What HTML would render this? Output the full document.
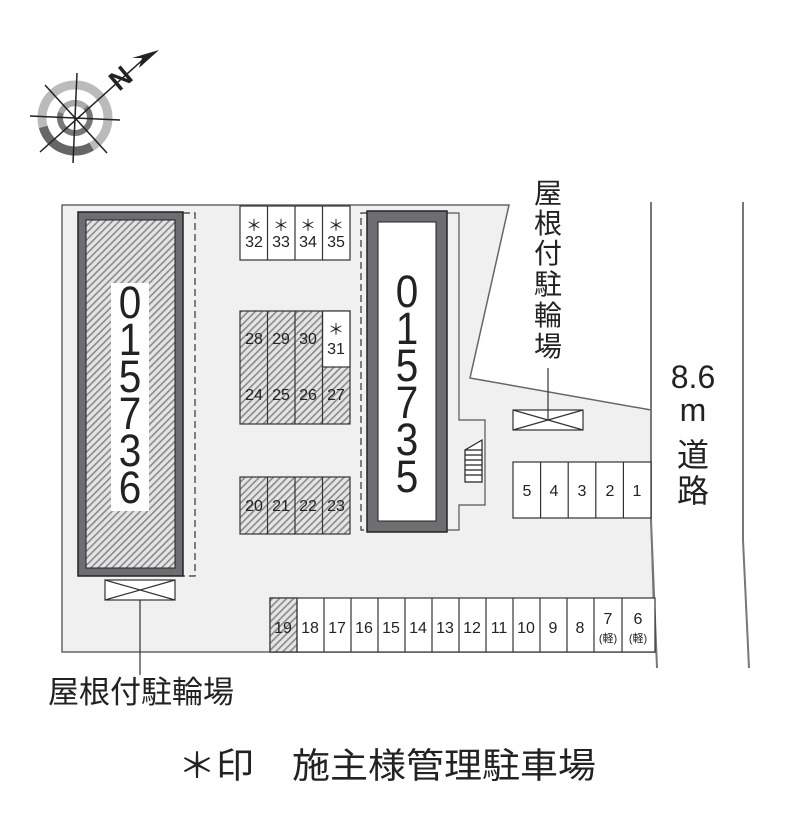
<!DOCTYPE html>
<html><head><meta charset="utf-8"><style>
html,body{margin:0;padding:0;background:#fff;}
svg{display:block;}
text{font-family:"Liberation Sans","Noto Sans CJK JP",sans-serif;fill:#222;}
</style></head><body>
<svg width="800" height="814" viewBox="0 0 800 814" xmlns="http://www.w3.org/2000/svg">
<defs>
<pattern id="h" width="5" height="5" patternUnits="userSpaceOnUse" patternTransform="rotate(45)">
<rect width="5" height="5" fill="#e4e4e4"/><rect width="1.6" height="5" fill="#8a8a8a"/>
</pattern>
</defs>
<path d="M62,205 L509,205 L470,378 L651,410 L651,520 L655,652 L62,652 Z" fill="#f0f0f0" stroke="#666" stroke-width="1.5"/>
<path d="M651,202 L651,520 L657,668" fill="none" stroke="#777" stroke-width="2"/>
<path d="M743,202 L743,540 L749,668" fill="none" stroke="#777" stroke-width="2"/>
<g transform="translate(75,118)">
<circle r="33" fill="none" stroke="#bbb" stroke-width="9"/>
<circle r="33" fill="none" stroke="#666" stroke-width="9" stroke-dasharray="60 200" transform="rotate(60)"/>
<circle r="15" fill="none" stroke="#777" stroke-width="6"/>
<circle r="15" fill="none" stroke="#aaa" stroke-width="6" stroke-dasharray="30 100" transform="rotate(200)"/>
<g stroke="#222" stroke-width="1.5">
<line x1="-45" y1="-2" x2="45" y2="2"/><line x1="2" y1="-45" x2="-2" y2="45"/>
<line x1="-30" y1="-33" x2="32" y2="35"/><line x1="-35" y1="34" x2="72" y2="-62"/>
</g>
<text x="44" y="-26" font-size="28" font-weight="bold" transform="rotate(-40 44 -26)">N</text>
<path d="M84,-68 L64,-50 L67,-60 L57,-60 Z" fill="#222"/>
</g>
<rect x="78" y="212" width="105" height="364" fill="#6e6e72" stroke="#222" stroke-width="1.5"/>
<rect x="86" y="220" width="89" height="348" fill="url(#h)" stroke="#222" stroke-width="1"/>
<rect x="111" y="283" width="38" height="228" fill="#fff"/>
<g font-size="45" text-anchor="middle" transform="translate(130,0) scale(0.9,1)">
<text x="0" y="318">0</text><text x="0" y="355">1</text><text x="0" y="392">5</text><text x="0" y="429">7</text><text x="0" y="466">3</text><text x="0" y="503">6</text></g>
<path d="M183,213 L195,213 L195,576 L183,576" fill="none" stroke="#333" stroke-width="1.2" stroke-dasharray="7 4"/>
<rect x="105" y="580" width="70" height="20" fill="#fff" stroke="#333" stroke-width="1.2"/>
<path d="M105,580 L175,600 M175,580 L105,600 M140,600 L140,675" stroke="#333" stroke-width="1.2"/>
<text x="141" y="703" font-size="31" text-anchor="middle">屋根付駐輪場</text>
<g stroke="#333" stroke-width="1.2">
<rect x="240" y="206" width="110" height="54" fill="#fff"/>
<line x1="267.5" y1="206" x2="267.5" y2="260"/><line x1="295" y1="206" x2="295" y2="260"/><line x1="322.5" y1="206" x2="322.5" y2="260"/>
</g>
<g font-size="16" text-anchor="middle">
<text x="254" y="231">＊</text><text x="281" y="231">＊</text><text x="308" y="231">＊</text><text x="336" y="231">＊</text>
<text x="254" y="247">32</text><text x="281" y="247">33</text><text x="308" y="247">34</text><text x="336" y="247">35</text>
</g>
<g stroke="#333" stroke-width="1.2">
<rect x="240" y="311" width="110" height="113" fill="url(#h)"/>
<rect x="322.5" y="311" width="27.5" height="56" fill="#fff"/>
<line x1="267.5" y1="311" x2="267.5" y2="424"/><line x1="295" y1="311" x2="295" y2="424"/><line x1="322.5" y1="311" x2="322.5" y2="424"/>
</g>
<g font-size="16" text-anchor="middle">
<text x="254" y="344">28</text><text x="281" y="344">29</text><text x="308" y="344">30</text>
<text x="336" y="335">＊</text><text x="336" y="354">31</text>
<text x="254" y="400">24</text><text x="281" y="400">25</text><text x="308" y="400">26</text><text x="336" y="400">27</text>
</g>
<g stroke="#333" stroke-width="1.2">
<rect x="240" y="477" width="110" height="57" fill="url(#h)"/>
<line x1="267.5" y1="477" x2="267.5" y2="534"/><line x1="295" y1="477" x2="295" y2="534"/><line x1="322.5" y1="477" x2="322.5" y2="534"/>
</g>
<g font-size="16" text-anchor="middle">
<text x="254" y="511">20</text><text x="281" y="511">21</text><text x="308" y="511">22</text><text x="336" y="511">23</text>
</g>
<path d="M447,213 L459,213 L459,420 L485,420 L485,505 L459,505 L459,530 L447,530" fill="#f0f0f0" stroke="#555" stroke-width="1.2"/>
<path d="M367,213 L361,213 L361,530 L367,530" fill="none" stroke="#333" stroke-width="1.2" stroke-dasharray="7 4"/>
<rect x="367" y="211" width="80" height="321" fill="#6e6e72" stroke="#222" stroke-width="1.5"/>
<rect x="378" y="222" width="58" height="299" fill="#fff" stroke="#222" stroke-width="1"/>
<g font-size="45" text-anchor="middle" transform="translate(407,0) scale(0.9,1)">
<text x="0" y="307">0</text><text x="0" y="344">1</text><text x="0" y="381">5</text><text x="0" y="418">7</text><text x="0" y="455">3</text><text x="0" y="492">5</text></g>
<path d="M465,450 L482,440 L482,482 L465,482 Z" fill="#fff" stroke="#222" stroke-width="1.2"/>
<g stroke="#222" stroke-width="1.2"><line x1="465" y1="455" x2="482" y2="455"/><line x1="465" y1="460" x2="482" y2="460"/><line x1="465" y1="465" x2="482" y2="465"/><line x1="465" y1="470" x2="482" y2="470"/><line x1="465" y1="475" x2="482" y2="475"/><line x1="465" y1="450" x2="482" y2="450"/></g>
<rect x="513" y="410" width="70" height="20" fill="#fff" stroke="#333" stroke-width="1.2"/>
<path d="M513,410 L583,430 M583,410 L513,430 M548,368 L548,420" stroke="#333" stroke-width="1.2"/>
<g font-size="28" text-anchor="middle">
<text x="548" y="203">屋</text><text x="548" y="233">根</text><text x="548" y="263">付</text><text x="548" y="294">駐</text><text x="548" y="325">輪</text><text x="548" y="356">場</text></g>
<g stroke="#333" stroke-width="1.2">
<rect x="513" y="462" width="138" height="56" fill="#fff"/>
<line x1="540.6" y1="462" x2="540.6" y2="518"/><line x1="568.2" y1="462" x2="568.2" y2="518"/><line x1="595.8" y1="462" x2="595.8" y2="518"/><line x1="623.4" y1="462" x2="623.4" y2="518"/>
</g>
<g font-size="16" text-anchor="middle">
<text x="527" y="496">5</text><text x="554" y="496">4</text><text x="582" y="496">3</text><text x="610" y="496">2</text><text x="637" y="496">1</text>
</g>
<g stroke="#333" stroke-width="1.2">
<rect x="270" y="598" width="385" height="54" fill="#fff"/>
<rect x="270" y="598" width="27" height="54" fill="url(#h)"/>
<line x1="297" y1="598" x2="297" y2="652"/><line x1="324" y1="598" x2="324" y2="652"/><line x1="351" y1="598" x2="351" y2="652"/><line x1="378" y1="598" x2="378" y2="652"/><line x1="405" y1="598" x2="405" y2="652"/><line x1="432" y1="598" x2="432" y2="652"/><line x1="459" y1="598" x2="459" y2="652"/><line x1="486" y1="598" x2="486" y2="652"/><line x1="513" y1="598" x2="513" y2="652"/><line x1="540" y1="598" x2="540" y2="652"/><line x1="567" y1="598" x2="567" y2="652"/><line x1="594" y1="598" x2="594" y2="652"/><line x1="622" y1="598" x2="622" y2="652"/>
</g>
<g font-size="16" text-anchor="middle">
<text x="283" y="633">19</text><text x="310" y="633">18</text><text x="337" y="633">17</text><text x="364" y="633">16</text><text x="391" y="633">15</text><text x="418" y="633">14</text><text x="445" y="633">13</text><text x="472" y="633">12</text><text x="499" y="633">11</text><text x="526" y="633">10</text><text x="553" y="633">9</text><text x="580" y="633">8</text>
<text x="608" y="624">7</text><text x="638" y="624">6</text>
</g>
<g font-size="11" text-anchor="middle"><text x="608" y="642">(軽)</text><text x="638" y="642">(軽)</text></g>
<g font-size="32" text-anchor="middle">
<text x="693" y="388">8.6</text><text x="693" y="421">m</text><text x="693" y="466">道</text><text x="693" y="502">路</text>
</g>
<text x="178" y="778" font-size="35" textLength="418" lengthAdjust="spacingAndGlyphs">＊印　施主様管理駐車場</text>
</svg>
</body></html>
